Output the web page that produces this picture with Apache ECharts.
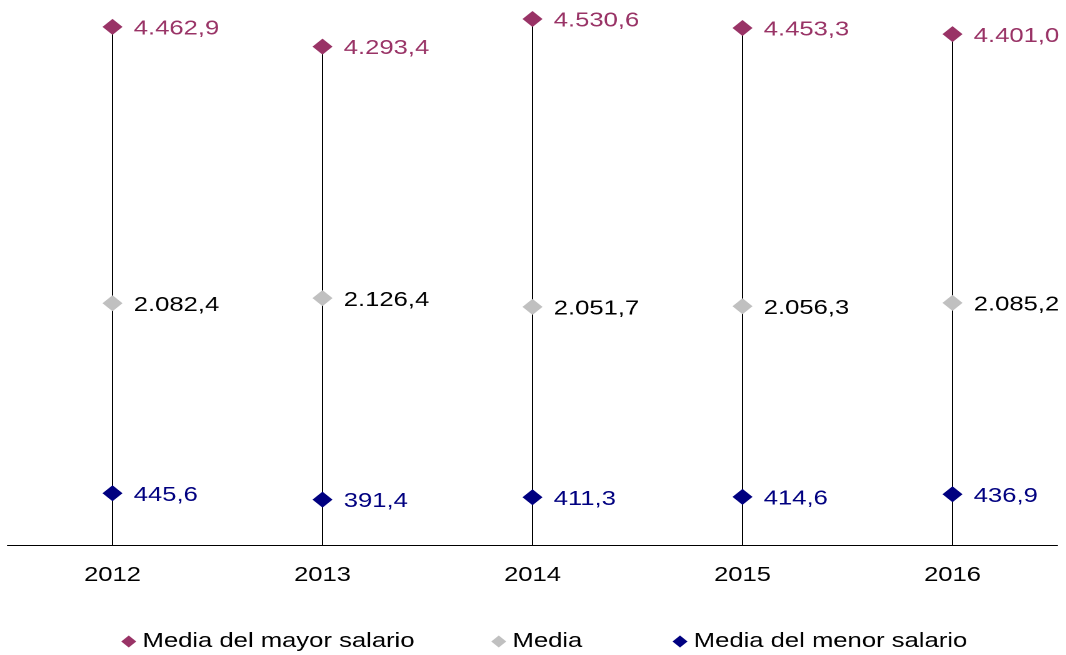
<!DOCTYPE html>
<html>
<head>
<meta charset="utf-8">
<script src="https://cdn.jsdelivr.net/npm/echarts@6/dist/echarts.min.js"></script>
<style>
  html, body { margin: 0; padding: 0; background: #fff; overflow: hidden; }
  #chart { width: 853px; height: 655px; transform: scaleX(1.25); transform-origin: 0 0; }
</style>
</head>
<body>
<div id="chart"></div>
<script>
const years = ['2012', '2013', '2014', '2015', '2016'];
const mayorSalario = [4462.9, 4293.4, 4530.6, 4453.3, 4401.0];
const media = [2082.4, 2126.4, 2051.7, 2056.3, 2085.2];
const menorSalario = [445.6, 391.4, 411.3, 414.6, 436.9];
const seriesNames = ['Media del mayor salario', 'Media', 'Media del menor salario'];

function fmt(v) {
  const s = v.toFixed(1).split('.');
  return s[0].replace(/\B(?=(\d{3})+(?!\d))/g, '.') + ',' + s[1];
}

const FONT = '"Liberation Sans", Arial, sans-serif';
const FS = 20.5;
const chart = echarts.init(document.getElementById('chart'), null, { renderer: 'canvas', devicePixelRatio: 2 });

function pointSeries(name, data, color, labelColor) {
  return {
    name: name,
    type: 'scatter',
    data: data,
    symbol: 'diamond',
    symbolSize: 16,
    itemStyle: { color: color, opacity: 1 },
    z: 5,
    label: {
      show: true,
      position: 'right',
      distance: 9,
      offset: [0, 2],
      color: labelColor,
      opacity: 1,
      fontFamily: FONT,
      fontSize: FS,
      formatter: p => fmt(p.value)
    }
  };
}

function legendAt(name, left) {
  return {
    data: [name],
    left: left,
    top: 631,
    icon: 'diamond',
    itemWidth: 12,
    itemHeight: 12,
    itemGap: 5,
    padding: 0,
    textStyle: { fontFamily: FONT, fontSize: FS, color: '#000' }
  };
}

chart.setOption({
  animation: false,
  backgroundColor: '#fff',
  grid: { left: 6, width: 840, top: 11, bottom: 110, containLabel: false },
  legend: [
    legendAt(seriesNames[0], 97),
    legendAt(seriesNames[1], 393),
    legendAt(seriesNames[2], 538)
  ],
  xAxis: {
    type: 'category',
    data: years,
    boundaryGap: true,
    axisLine: { show: true, lineStyle: { color: '#000', width: 1 } },
    axisTick: { show: false },
    axisLabel: { color: '#000', fontFamily: FONT, fontSize: FS, margin: 20 }
  },
  yAxis: {
    type: 'value',
    min: 0,
    max: 4600,
    show: false,
    splitLine: { show: false }
  },
  series: [
    {
      name: 'range',
      type: 'bar',
      data: mayorSalario,
      barWidth: 1,
      itemStyle: { color: '#000', opacity: 1 },
      z: 1,
      silent: true
    },
    pointSeries(seriesNames[0], mayorSalario, '#993366', '#993366'),
    pointSeries(seriesNames[1], media, '#C0C0C0', '#000000'),
    pointSeries(seriesNames[2], menorSalario, '#000080', '#000080')
  ]
});
</script>
</body>
</html>
